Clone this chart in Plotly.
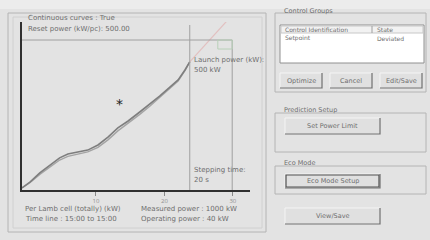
import plotly.graph_objects as go

# ---- data ----
time_min = [-0.8, 0.4, 1.8, 3.3, 4.7, 5.9, 7.4, 8.8, 10.3, 11.8, 13.2, 14.7, 16.4, 17.9, 19.3, 20.8, 22.0, 23.0, 23.7]
measured_kw = [7, 27, 57, 83, 107, 120, 127, 133, 150, 177, 207, 230, 260, 287, 313, 343, 367, 400, 427]
predicted_kw = [7, 25, 52, 78, 100, 112, 120, 127, 142, 168, 197, 222, 252, 280, 308, 338, 363, 398, 427]
forecast_time = [23.7, 25.9, 28.1, 29.9]
forecast_kw = [427, 483, 540, 583]
reset_power = 500
launch_time = 23.7
stepping_time = 29.9
tick_vals = [10, 20, 30]
tick_text = ["10", "20", "30"]

W, H = 430, 240
def px(x): return x / W
def py(y): return 1 - y / H

fig = go.Figure()
fig.add_trace(go.Scatter(x=time_min, y=predicted_kw, mode="lines",
                         line=dict(color="#a4a4a4", width=1.4), showlegend=False))
fig.add_trace(go.Scatter(x=time_min, y=measured_kw, mode="lines",
                         line=dict(color="#7e7e7e", width=1.6), showlegend=False))
fig.add_trace(go.Scatter(x=forecast_time, y=forecast_kw, mode="lines",
                         line=dict(color="#e2c0c0", width=1.2), showlegend=False))

bg = "#e3e3e3"
grey = "#6e6e6e"
shapes = []
annotations = []

def rect(x0, y0, x1, y1, line="#a8a8a8", fill=None, w=1):
    shapes.append(dict(type="rect", xref="paper", yref="paper",
                       x0=px(x0), x1=px(x1), y0=py(y1), y1=py(y0),
                       line=dict(color=line, width=w),
                       fillcolor=fill if fill else "rgba(0,0,0,0)", layer="below"))

def txt(x, y, s, size=7, color=grey, anchor="left"):
    annotations.append(dict(xref="paper", yref="paper", x=px(x), y=py(y), text=s,
                            showarrow=False, xanchor=anchor, yanchor="middle",
                            font=dict(size=size, color=color, family="DejaVu Sans")))

def button(x0, y0, x1, y1, label, dark=False):
    rect(x0, y0, x1, y1, line="#f4f4f4", fill="#e0e0e0")
    shapes.append(dict(type="path", xref="paper", yref="paper",
                       path=f"M {px(x0)},{py(y1)} L {px(x1)},{py(y1)} L {px(x1)},{py(y0)}",
                       line=dict(color="#6a6a6a", width=1.2)))
    if dark:
        rect(x0 + 1, y0 + 1, x1 - 1, y1 - 1, line="#505050", w=1.2)
    txt((x0 + x1) / 2, (y0 + y1) / 2, label, size=6.5, anchor="center", color="#6e6e6e")

# top light band
rect(0, 0, 430, 9, line="rgba(0,0,0,0)", fill="#ececec")
# left panel frame
rect(8, 13, 266, 232, line="#b4b4b4")
rect(13, 17, 262, 228, line="#d0d0d0")

# plot marker lines (data coords)
shapes.append(dict(type="line", xref="x", yref="y", x0=-0.8, x1=stepping_time, y0=reset_power, y1=reset_power,
                   line=dict(color="#a0a0a0", width=1)))
shapes.append(dict(type="line", xref="x", yref="y", x0=launch_time, x1=launch_time, y0=0, y1=550,
                   line=dict(color="#a0a0a0", width=1)))
shapes.append(dict(type="line", xref="x", yref="y", x0=stepping_time, x1=stepping_time, y0=0, y1=500,
                   line=dict(color="#a0a0a0", width=1)))
shapes.append(dict(type="rect", xref="x", yref="y", x0=27.8, x1=stepping_time, y0=470, y1=500,
                   line=dict(color="#b8d0b8", width=1)))

txt(26, 18, "Continuous curves : True")
txt(26, 29, "Reset power (kW/pc): 500.00")
txt(192, 60, "Launch power (kW):")
txt(192, 70, "500 kW")
txt(192, 170, "Stepping time:")
txt(192, 180, "20 s")
txt(23, 209, "Per Lamb cell (totally) (kW)")
txt(23, 219, "Time line : 15:00 to 15:00")
txt(139, 209, "Measured power : 1000 kW")
txt(139, 219, "Operating power : 40 kW")
annotations.append(dict(xref="x", yref="y", x=13.4, y=287, text="*", showarrow=False,
                        font=dict(size=14, color="#222222", family="DejaVu Sans")))

# right panel: Control Groups
rect(275, 13, 426, 92, line="#b4b4b4")
txt(282, 11, "Control Groups", size=6.5)
rect(280, 25, 424, 63, line="#909090", fill="#ffffff")
rect(281, 26, 423, 33, line="#c8c8c8", fill="#f2f2f2")
shapes.append(dict(type="line", xref="paper", yref="paper", x0=px(372), x1=px(372), y0=py(33), y1=py(26),
                   line=dict(color="#a0a0a0", width=1)))
txt(283, 29.5, "Control Identification", size=6)
txt(375, 29.5, "State", size=6)
txt(283, 38, "Setpoint", size=6)
txt(375, 38, "Deviated", size=6)
button(280, 73, 322, 88, "Optimize")
button(330, 73, 372, 88, "Cancel")
button(380, 73, 422, 88, "Edit/Save")

# Prediction Setup
rect(275, 113, 426, 152, line="#b4b4b4")
txt(282, 110, "Prediction Setup", size=6.5)
button(285, 118, 380, 134, "Set Power Limit")

# Eco Mode
rect(275, 166, 426, 194, line="#b4b4b4")
txt(282, 163, "Eco Mode", size=6.5)
button(285, 174, 380, 188, "Eco Mode Setup", dark=True)

button(285, 208, 380, 224, "View/Save")

fig.update_layout(
    width=W, height=H, margin=dict(l=0, r=0, t=0, b=0),
    paper_bgcolor=bg, plot_bgcolor=bg,
    shapes=shapes, annotations=annotations,
    xaxis=dict(domain=[px(22), px(250)], range=[-0.8, 32.5], showgrid=False, zeroline=False,
               showline=True, linecolor="#303030", linewidth=2,
               tickvals=tick_vals, ticktext=tick_text, ticks="outside", ticklen=4,
               tickcolor="#888888", tickfont=dict(size=6, color="#909090")),
    yaxis=dict(domain=[py(190), py(22)], range=[0, 560], showgrid=False, zeroline=False,
               showline=True, linecolor="#303030", linewidth=2, showticklabels=False, ticks=""),
)
fig.write_html("out.html", config={"displayModeBar": False},
               post_script="document.body.style.margin='0';document.body.style.background='#e3e3e3';")
